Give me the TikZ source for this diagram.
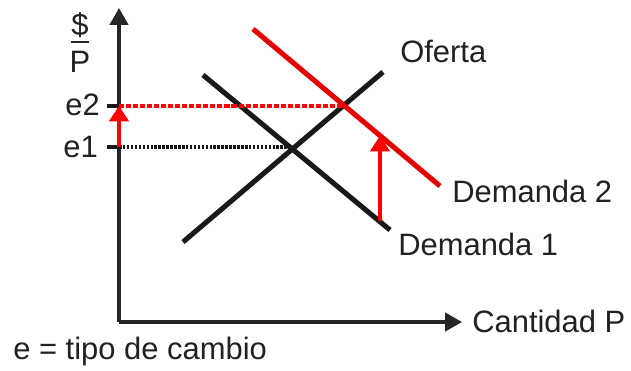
\documentclass[tikz,border=0pt]{standalone}
\usepackage{fontspec}
\setmainfont{Liberation Sans}
\usetikzlibrary{arrows.meta}
\tikzset{
	lbl/.style={inner sep=0pt, text=black!87, font=\fontsize{22}{26}\selectfont},
	axis/.style={line width=2.2pt, black!85, -{Triangle[length=12pt,width=13pt]}},
	curve/.style={line width=3.6pt},
	redarrow/.style={line width=2.2pt, red, -{Triangle[length=11pt,width=14pt]}},
}
\begin{document}
\begin{tikzpicture}[x=0.025cm,y=-0.025cm]
		\useasboundingbox (0,0) rectangle (631,370);
		% axes
		\coordinate (O) at (119,322);
		\coordinate (ytop) at (119,8);
		\coordinate (xend) at (462,322);
		\draw[axis] (O) -- (ytop);
		\draw[axis] (O) -- (xend);
		% curves
		\coordinate (of1) at (183,242);
		\coordinate (of2) at (383,72);
		\coordinate (da1) at (203,75);
		\coordinate (da2) at (390,230);
		\coordinate (db1) at (253,29);
		\coordinate (db2) at (440,186);
		\draw[curve, black!90] (of1) -- (of2);
		\draw[curve, black!90] (da1) -- (da2);
		\draw[curve, red!90!black] (db1) -- (db2);
		% equilibria
		\coordinate (E1) at (292,147);
		\coordinate (E2) at (344,106);
		\coordinate (t1) at (107,147);
		\coordinate (t2) at (107,106);
		\draw[line width=2.6pt, black!90] (t1) -- (O |- E1);
		\draw[line width=2.6pt, black!90] (t2) -- (O |- E2);
		\draw[line width=2.2pt, black!90, dash pattern=on 1.8pt off 1pt] (O |- E1) -- (E1);
		\draw[line width=2.2pt, red, dash pattern=on 3.6pt off 1.4pt] (O |- E2) -- (E2);
		% shifts
		\coordinate (s1) at (380,221);
		\coordinate (s2) at (380,136);
		\draw[redarrow] (s1) -- (s2);
		\draw[redarrow] (O |- E1) -- (O |- E2);
		% labels
		\node[lbl, anchor=base] (dollar) at (80,35) {\$};
		\node[lbl, anchor=base] (P) at (80,72) {P};
		\draw[line width=2pt, black!85] (71,42) -- (89,42);
		\node[lbl, anchor=base east] (e2) at (100,115) {e2};
		\node[lbl, anchor=base east] (e1) at (98,157) {e1};
		\node[lbl, anchor=base west] (oferta) at (400,62) {Oferta};
		\node[lbl, anchor=base west] (dem2) at (452,202) {Demanda 2};
		\node[lbl, anchor=base west] (dem1) at (398,255) {Demanda 1};
		\node[lbl, anchor=base west] (cant) at (472,332) {Cantidad P};
		\node[lbl, anchor=base west] (tipo) at (13,359) {e = tipo de cambio};
	\end{tikzpicture}
\end{document}
